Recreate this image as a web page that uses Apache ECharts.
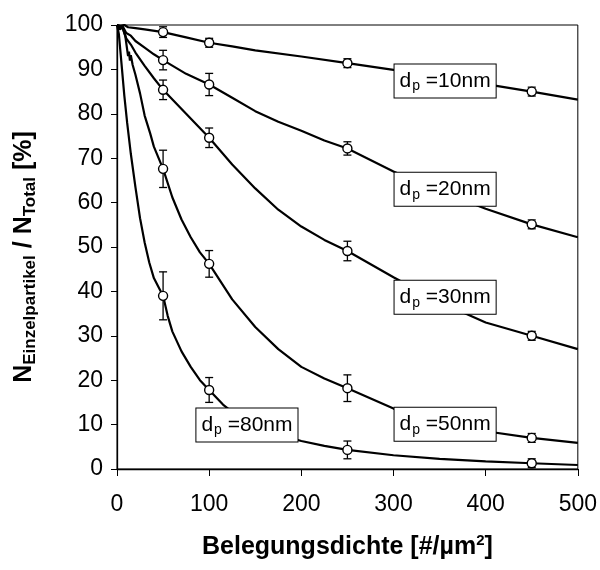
<!DOCTYPE html>
<html>
<head>
<meta charset="utf-8">
<script src="https://cdn.jsdelivr.net/npm/echarts@6/dist/echarts.min.js"></script>
<style>
  html, body { margin: 0; padding: 0; background: #fff; }
  #chart { width: 600px; height: 570px; }
</style>
</head>
<body>
<div id="chart"></div>
<script>
// simulated curves, [Belegungsdichte, percent]
const curve10 = [[0,100],[4,99.8],[8,100],[12,99.5],[20,99.3],[30,99.0],[50,98.4],[75,97.2],[100,96.0],[125,95.2],[150,94.3],[200,92.9],[250,91.4],[300,89.9],[350,88.3],[400,86.7],[450,85.0],[500,83.2]];
const curve20 = [[0,100],[3,99.4],[6,99.8],[10,98.2],[15,97.6],[20,96.4],[30,94.9],[40,93.4],[50,92.1],[75,89.0],[100,86.6],[125,83.6],[150,80.6],[175,78.2],[200,76.2],[225,74.0],[250,72.2],[300,67.0],[350,62.6],[400,58.6],[450,55.1],[500,52.2]];
const curve30 = [[0,100],[3,99.2],[6,99.5],[10,97.0],[15,95.6],[20,93.8],[30,90.8],[40,88.0],[50,85.4],[75,80.0],[100,74.6],[125,68.6],[150,63.2],[175,58.4],[200,54.6],[225,51.6],[250,49.1],[300,43.2],[350,37.6],[400,33.0],[450,30.0],[500,27.0]];
const curve50 = [[0,100],[3,99.0],[6,99.4],[9,97.5],[12,93.0],[13,94.0],[14,92.0],[15,93.2],[17,91.0],[20,88.8],[25,84.6],[30,79.6],[36,75.6],[40,72.6],[50,67.6],[60,61.2],[70,56.2],[80,52.2],[90,48.8],[100,46.2],[125,38.2],[150,32.0],[175,27.0],[200,23.0],[225,20.4],[250,18.2],[300,13.6],[350,10.6],[400,8.5],[450,7.0],[500,5.9]];
const curve80 = [[0,100],[2,98],[5,91],[8,84],[11,78],[15,71],[20,63.5],[25,56.5],[30,51],[35,46.5],[40,43],[45,41],[50,39],[55,34.5],[60,31],[70,26.5],[80,23],[90,20],[100,17.8],[115,14.5],[130,12],[150,9.8],[175,7.8],[200,6.3],[225,5.2],[250,4.3],[300,3.1],[350,2.3],[400,1.7],[450,1.3],[500,0.9]];

// measured points with error bars
const markX = [50, 100, 250, 450];
const mean10 = [98.4, 96.0, 91.4, 85.0];
const err10 = [1.2, 1.0, 1.0, 1.0];
const mean20 = [92.1, 86.6, 72.2, 55.1];
const err20 = [2.2, 2.5, 1.5, 1.0];
const mean30 = [85.4, 74.6, 49.1, 30.0];
const err30 = [2.2, 2.2, 2.2, 1.0];
const mean50 = [67.6, 46.2, 18.2, 7.0];
const err50 = [4.2, 3.0, 3.0, 1.0];
const mean80 = [39.0, 17.8, 4.3, 1.3];
const err80 = [5.4, 2.8, 2.0, 1.0];

const sizes = ['10', '20', '30', '50', '80'];
const curves = [curve10, curve20, curve30, curve50, curve80];
const means = [mean10, mean20, mean30, mean50, mean80];
const errs = [err10, err20, err30, err50, err80];
// where the boxed labels sit (data coords)
const labelSpots = [[356, 87.4], [356, 63.0], [356, 38.7], [356, 10.1], [141, 9.9]];

const FONT = '"Liberation Sans", Arial, sans-serif';
const chart = echarts.init(document.getElementById('chart'));

let series = [];
curves.forEach((c, i) => {
    series.push({
        name: sizes[i] + 'nm',
        type: 'line',
        data: c,
        symbol: 'none',
        smooth: false,
        lineStyle: { color: '#000', width: 2.2, opacity: 1 },
        z: 2,
        silent: true
    });
});

means.forEach((m, i) => {
    let pts = markX.map((x, k) => [x, m[k] - errs[i][k], m[k] + errs[i][k]]);
    series.push({
        type: 'custom',
        data: pts,
        z: 3,
        silent: true,
        renderItem: (params, api) => {
            let lo = api.coord([api.value(0), api.value(1)]);
            let hi = api.coord([api.value(0), api.value(2)]);
            let cap = 4;
            let st = { stroke: '#000', lineWidth: 1.3 };
            return {
                type: 'group',
                children: [
                    { type: 'line', shape: { x1: lo[0], y1: lo[1], x2: hi[0], y2: hi[1] }, style: st },
                    { type: 'line', shape: { x1: lo[0] - cap, y1: lo[1], x2: lo[0] + cap, y2: lo[1] }, style: st },
                    { type: 'line', shape: { x1: hi[0] - cap, y1: hi[1], x2: hi[0] + cap, y2: hi[1] }, style: st }
                ]
            };
        }
    });
    series.push({
        type: 'scatter',
        data: markX.map((x, k) => [x, m[k]]),
        symbol: 'circle',
        symbolSize: 9,
        itemStyle: { color: '#fff', borderColor: '#000', borderWidth: 1.4, opacity: 1 },
        z: 4,
        silent: true
    });
});

series.push({
    type: 'scatter',
    data: labelSpots,
    symbolSize: 0,
    z: 6,
    silent: true,
    itemStyle: { opacity: 1 },
    label: {
        show: true,
        position: 'inside',
        opacity: 1,
        formatter: (p) => '{a|d}{b|p}{a| =' + sizes[p.dataIndex] + 'nm}',
        backgroundColor: '#fff',
        borderColor: '#000',
        borderWidth: 1,
        padding: [4, 5, 4, 5],
        rich: {
            a: { fontFamily: FONT, fontSize: 21, color: '#000', lineHeight: 25 },
            b: { fontFamily: FONT, fontSize: 14, color: '#000', padding: [11, 0, 0, 1] }
        }
    }
});

chart.setOption({
    animation: false,
    backgroundColor: '#fff',
    grid: {
        left: 117,
        right: 22,
        top: 25,
        bottom: 101,
        show: true,
        borderColor: '#000',
        borderWidth: 1
    },
    xAxis: {
        type: 'value',
        min: 0,
        max: 500,
        interval: 100,
        name: '{t|Belegungsdichte [#/µm}{s|2}{t|]}',
        nameLocation: 'middle',
        nameGap: 64,
        nameTextStyle: {
            rich: {
                t: { fontFamily: FONT, fontSize: 25, fontWeight: 'bold', color: '#000' },
                s: { fontFamily: FONT, fontSize: 15, fontWeight: 'bold', color: '#000', padding: [0, 0, 13, 0] }
            }
        },
        axisLine: { lineStyle: { color: '#000', width: 1.3 } },
        axisTick: { length: 7, lineStyle: { color: '#000' } },
        axisLabel: { fontFamily: FONT, fontSize: 23, color: '#000', margin: 24 },
        splitLine: { show: false }
    },
    yAxis: {
        type: 'value',
        min: 0,
        max: 100,
        interval: 10,
        name: '{t|N}{s|Einzelpartikel}{t| / N}{s|Total}{t| [%]}',
        nameLocation: 'middle',
        nameRotate: 90,
        nameGap: 78,
        nameTextStyle: {
            padding: [0, 20, 0, 0],
            rich: {
                t: { fontFamily: FONT, fontSize: 25, fontWeight: 'bold', color: '#000' },
                s: { fontFamily: FONT, fontSize: 17, fontWeight: 'bold', color: '#000', padding: [13, 0, 0, 0] }
            }
        },
        axisLine: { lineStyle: { color: '#000', width: 1.3 } },
        axisTick: { length: 6, lineStyle: { color: '#000' } },
        axisLabel: { fontFamily: FONT, fontSize: 23, color: '#000', margin: 14 },
        splitLine: { show: false }
    },
    series: series
});
</script>
</body>
</html>
